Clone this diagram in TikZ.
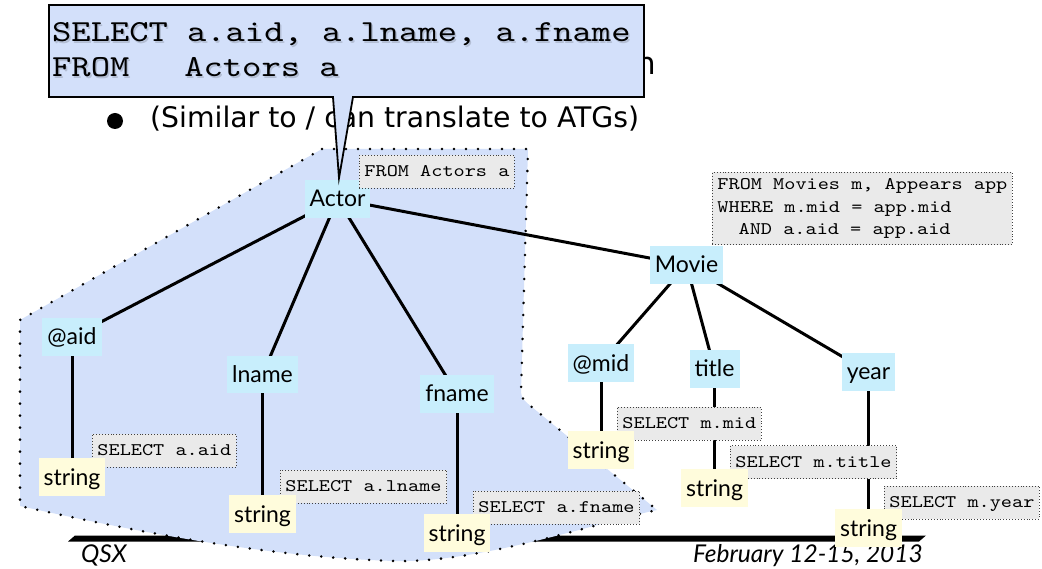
\documentclass[tikz,border=0pt]{standalone}
\usepackage{fontspec}
\setmainfont{Lato}
\newfontfamily\codefont[Extension=.otf, FakeStretch=1.2]{lmmono10-regular}
\newfontfamily\slidefont{DejaVu Sans}

\definecolor{regionblue}{RGB}{211,224,250}
\definecolor{nodecyan}{RGB}{200,238,252}
\definecolor{leafyellow}{RGB}{255,252,220}
\definecolor{notegray}{RGB}{234,234,234}

\pgfdeclarelayer{back}
\pgfdeclarelayer{wires}
\pgfsetlayers{back,wires,main}

\begin{document}
\begin{tikzpicture}[x=1pt,y=-1pt,
  elem/.style={fill=nodecyan, inner xsep=5pt, inner ysep=0pt, minimum height=37.5pt,
    text height=18pt, text depth=2pt, font=\fontsize{23}{28}\selectfont},
  leaf/.style={elem, fill=leafyellow},
  notebase/.style={fill=notegray, draw=black!75, dotted, line width=0.9pt, inner xsep=5pt,
    font=\codefont\fontsize{17.7}{22.7}\selectfont},
  note/.style={notebase, inner ysep=0pt, minimum height=33pt, text height=13pt, text depth=3pt},
  link/.style={line width=3pt},
  region/.style={fill=regionblue, draw=black, line width=2.8pt, line cap=round,
    dash pattern=on 0pt off 12pt},
  bubble/.style={fill=regionblue, draw=black, line width=1.8pt, line join=miter},
  sqlbig/.style={font=\codefont\fontsize{30.6}{38}\selectfont, inner sep=0pt},
  slide/.style={inner sep=0pt, font=\slidefont\fontsize{28.3}{34}\selectfont},
  foot/.style={inner sep=0pt, font=\itshape\fontsize{24.5}{28}\selectfont}
]
\useasboundingbox (0,0) rectangle (1042,569);
\clip (0,0) rectangle (1042,569);

% slide bullet, footer and the shaded subtree region
\begin{pgfonlayer}{back}
  \fill (115,121) circle[radius=8pt];
  \node[slide, anchor=base west] (similar) at (150,128) {(Similar to / can translate to ATGs)};
  \node[slide, anchor=base west, font=\slidefont\fontsize{31}{34}\selectfont]
    (hidden) at (636,75) {n};
  \fill (68,541.5) -- (75,535.5) -- (926,535.5) -- (919,541.5) -- cycle;
  \node[foot, anchor=base west] (venue) at (81,562) {QSX};
  \node[foot, anchor=base east] (date) at (923,562) {February 12-15, 2013};
  \path[region] (322,149) -- (528,149) -- (521,392) .. controls (522,398) .. (527,403)
    -- (657,510) .. controls (600,522) and (480,563) .. (395,561)
    .. controls (260,557) and (120,528) .. (20,506) -- (20,320) -- cycle;
\end{pgfonlayer}

% element nodes
\node[elem] (actor) at (337.5,199) {Actor};
\node[elem] (aid)   at (72,337)    {@aid};
\node[elem] (lname) at (262.5,374.5) {lname};
\node[elem] (fname) at (457,394)   {fname};
\node[elem] (movie) at (686.5,265) {Movie};
\node[elem] (mid)   at (601,363)   {@mid};
\node[elem] (title) at (714.5,369) {title};
\node[elem] (year)  at (868.5,372) {year};

% SQL annotations
\node[note, anchor=west] (nActor) at (359,172) {FROM Actors a};
\node[notebase, anchor=north west, align=left, inner ysep=6pt] (nMovie) at (712,172)
  {FROM Movies m, Appears app\\WHERE m.mid = app.mid\\\hspace{1.2em}AND a.aid = app.aid};
\node[note, anchor=west] (nAid)   at (92,450.5)  {SELECT a.aid};
\node[note, anchor=west] (nLname) at (280,486.5) {SELECT a.lname};
\node[note, anchor=west] (nFname) at (473,507.5) {SELECT a.fname};
\node[note, anchor=west] (nMid)   at (617,423.5) {SELECT m.mid};
\node[note, anchor=west] (nTitle) at (730,462)   {SELECT m.title};
\node[note, anchor=west] (nYear)  at (884,502.5) {SELECT m.year};

% text leaves
\node[leaf] (sAid)   at (72,477)    {string};
\node[leaf] (sLname) at (262.5,514) {string};
\node[leaf] (sFname) at (457,533)   {string};
\node[leaf] (sMid)   at (601,450)   {string};
\node[leaf] (sTitle) at (714.5,488) {string};
\node[leaf] (sYear)  at (868.5,528) {string};

% tree edges
\begin{pgfonlayer}{wires}
  \draw[link] (actor.center) -- (aid.center);
  \draw[link] (actor.center) -- (lname.center);
  \draw[link] (actor.center) -- (fname.center);
  \draw[link] (actor.center) -- (movie.center);
  \draw[link] (movie.center) -- (mid.center);
  \draw[link] (movie.center) -- (title.center);
  \draw[link] (movie.center) -- (year.center);
  \draw[link] (aid.center) -- (sAid.center);
  \draw[link] (lname.center) -- (sLname.center);
  \draw[link] (fname.center) -- (sFname.center);
  \draw[link] (mid.center) -- (sMid.center);
  \draw[link] (title.center) -- (sTitle.center);
  \draw[link] (year.center) -- (sYear.center);
\end{pgfonlayer}

% speech bubble with the query
\path[bubble] (49,5) -- (644,5) -- (644,97) -- (353,97) -- (339,178) -- (333,97)
  -- (49,97) -- cycle;
\node[sqlbig, anchor=base west, text=black, opacity=0.15] at (53.5,44)
  {SELECT a.aid, a.lname, a.fname};
\node[sqlbig, anchor=base west, text=black, opacity=0.15] at (53.5,79)
  {FROM\hspace{1.8em}Actors a};
\node[sqlbig, anchor=base west] (sql1) at (52,42) {SELECT a.aid, a.lname, a.fname};
\node[sqlbig, anchor=base west] (sql2) at (52,77) {FROM\hspace{1.8em}Actors a};
\end{tikzpicture}
\end{document}
